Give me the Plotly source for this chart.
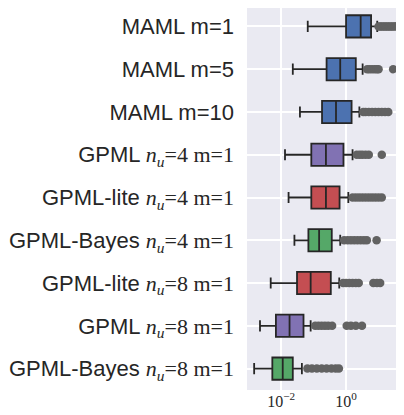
import numpy as np
import plotly.graph_objects as go

SANS = "Liberation Sans"
SERIF = "Liberation Serif"

def lab(name, nu=None, m=None):
    if nu is None:
        return name
    return (f"{name} <span style='font-family:\"Liberation Serif\", serif'>"
            f"<i>n</i><sub><i>u</i></sub>={nu} m={m}</span>")

labels = [
    "MAML m=1",
    "MAML m=5",
    "MAML m=10",
    lab("GPML", 4, 1),
    lab("GPML-lite", 4, 1),
    lab("GPML-Bayes", 4, 1),
    lab("GPML-lite", 8, 1),
    lab("GPML", 8, 1),
    lab("GPML-Bayes", 8, 1),
]

# statistics as log10 exponents
lowerfence = [-1.18, -1.64, -1.42, -1.88, -1.77, -1.59, -2.32, -2.65, -2.83]
q1         = [0.00, -0.60, -0.74, -1.07, -1.07, -1.16, -1.51, -2.16, -2.27]
median     = [0.45, -0.18, -0.31, -0.62, -0.62, -0.83, -1.09, -1.74, -1.95]
q3         = [0.77,  0.30,  0.17, -0.08, -0.20, -0.44, -0.47, -1.31, -1.64]
upperfence = [0.96,  0.51,  0.41,  0.20,  0.07, -0.18, -0.21, -1.09, -1.36]

outliers = [
    [1.0, 1.05, 1.1, 1.15, 1.2, 1.25, 1.3, 1.35, 1.4, 1.45, 1.5, 1.55, 1.6, 1.7, 1.8, 1.9],
    [0.65, 0.72, 0.8, 0.88, 0.95, 1.0, 1.45],
    [0.53, 0.6, 0.7, 0.8, 0.9, 1.0, 1.1, 1.2, 1.3],
    [0.33, 0.42, 0.5, 0.6, 0.7, 1.1],
    [0.2, 0.3, 0.4, 0.5, 0.6, 0.7, 0.8, 0.9, 1.0, 1.1],
    [-0.06, 0.05, 0.15, 0.25, 0.35, 0.45, 0.55, 0.64, 0.94],
    [-0.09, 0.0, 0.1, 0.2, 0.3, 0.39, 0.84, 0.95, 1.05],
    [-0.95, -0.85, -0.75, -0.65, -0.55, -0.43, 0.02, 0.15, 0.3, 0.49],
    [-1.19, -1.05, -0.9, -0.75, -0.6, -0.45, -0.32, -0.22],
]

colors = ["#4C72B0", "#4C72B0", "#4C72B0", "#8172B3", "#C44E52",
          "#55A868", "#C44E52", "#8172B3", "#55A868"]

fig = go.Figure()
for i, name in enumerate(labels):
    fig.add_trace(go.Box(
        y=[name], orientation="h",
        q1=[10 ** q1[i]], median=[10 ** median[i]], q3=[10 ** q3[i]],
        lowerfence=[10 ** lowerfence[i]], upperfence=[10 ** upperfence[i]],
        fillcolor=colors[i], line=dict(color="#262626", width=1.8),
        width=0.52, whiskerwidth=0.5, boxpoints=False, showlegend=False,
    ))
    fig.add_trace(go.Scatter(
        x=10 ** np.array(outliers[i]), y=[name] * len(outliers[i]),
        mode="markers", marker=dict(color="#626262", size=8.5),
        showlegend=False, hoverinfo="skip",
    ))

# page body adds an 8px offset; margins compensate
fig.update_layout(
    width=404, height=415,
    margin=dict(l=239, r=0, t=0, b=33),
    plot_bgcolor="#EAEAF2", paper_bgcolor="white",
    font=dict(family=SANS, size=22, color="#262626"),
)
fig.update_xaxes(
    type="log", range=[-3.05, 2.03],
    tickvals=[0.01, 1], ticktext=["10<sup>−2</sup>", "10<sup>0</sup>"],
    tickfont=dict(family=SERIF, size=16),
    gridcolor="white", gridwidth=1.5, zeroline=False, showline=False,
    ticks="", automargin=False,
)
fig.update_yaxes(
    type="category", categoryorder="array", categoryarray=labels,
    range=[8.5, -0.43], gridcolor="white", gridwidth=1.5,
    showline=False, ticks="", ticklabelstandoff=12, automargin=False,
)
fig.write_html("out.html")
